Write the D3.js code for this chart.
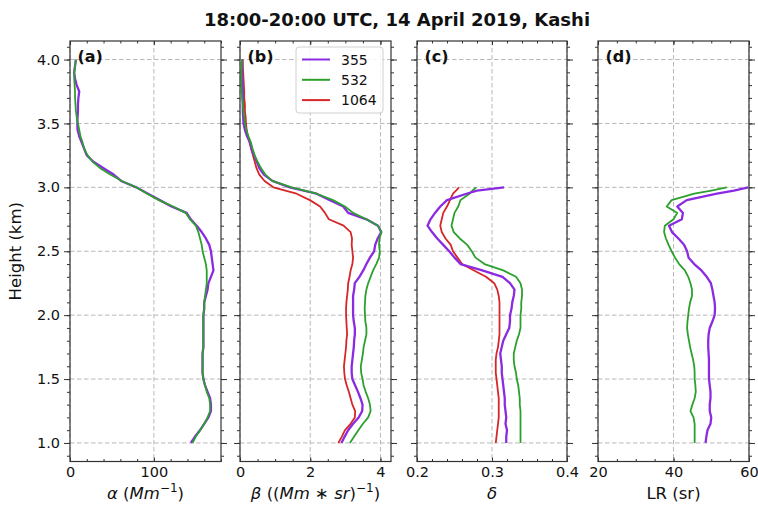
<!DOCTYPE html>
<html>
<head>
<meta charset="utf-8">
<script src="https://cdn.jsdelivr.net/npm/d3@7/dist/d3.min.js"></script>
<style>
  body { margin: 0; background: #fff; }
  svg text { font-family: "DejaVu Sans", sans-serif; fill: #111; }
</style>
</head>
<body>
<svg id="chart" width="758" height="505"></svg>
<script>
// Heights (km) for the extinction / backscatter profiles
const heightsAB = [1.00,1.05,1.10,1.15,1.20,1.25,1.30,1.35,1.40,1.45,1.50,1.55,1.60,1.65,1.70,1.75,1.80,1.85,1.90,1.95,
  2.00,2.05,2.10,2.15,2.20,2.25,2.30,2.35,2.40,2.45,2.50,2.55,2.60,2.65,2.70,2.75,2.80,2.85,2.90,2.95,
  3.00,3.05,3.10,3.15,3.20,3.25,3.30,3.35,3.40,3.45,3.50,3.55,3.60,3.65,3.70,3.75,3.80,3.85,3.90,3.95,4.00];
// Heights (km) for depolarization ratio and lidar ratio (below cloud top)
const heightsCD = [1.00,1.05,1.10,1.15,1.20,1.25,1.30,1.35,1.40,1.45,1.50,1.55,1.60,1.65,1.70,1.75,1.80,1.85,1.90,1.95,
  2.00,2.05,2.10,2.15,2.20,2.25,2.30,2.35,2.40,2.45,2.50,2.55,2.60,2.65,2.70,2.75,2.80,2.85,2.90,2.95,2.975,3.00];

// (a) extinction coefficient, Mm^-1
const alpha355 = [144,149,155,160,165,168,168,167,164,161,159,158,158,158,158,159,159,159,159,159,
  159,160,160,162,164,165,168,171,170,169,168,166,162,157,151,144,139,121,107,93,
  79,61,52,40,28,20,17,14,11,9,8.7,9,9.5,9.5,10,11,8,6,5,6,7];
const alpha532 = [146,150,155,160,164,167,167,166,163,161,159,158,158,158,158,159,159,159,159,159,
  159,160,160,161,162,163,163,163,162,160,158,157,155,153,150,143,138,123,106,92,
  79,62,48,36,27,21,17,15,12.5,11,9.5,8,7,6.5,6,6,5.5,5,5,6,7];

// (b) backscatter coefficient, (Mm*sr)^-1
const beta355 = [2.89,2.98,3.08,3.22,3.38,3.48,3.49,3.43,3.36,3.28,3.2,3.18,3.18,3.2,3.22,3.24,3.25,3.27,3.27,3.24,
  3.22,3.22,3.22,3.22,3.25,3.27,3.4,3.51,3.6,3.7,3.82,3.85,3.92,4.02,3.93,3.6,3.08,2.94,2.56,2.18,
  1.42,0.92,0.68,0.55,0.48,0.4,0.33,0.29,0.2,0.14,0.1,0.09,0.08,0.08,0.08,0.08,0.07,0.07,0.06,0.06,0.06];
const beta532 = [3.13,3.25,3.37,3.5,3.65,3.72,3.7,3.65,3.58,3.52,3.49,3.45,3.44,3.47,3.5,3.52,3.56,3.6,3.6,3.57,
  3.56,3.55,3.56,3.57,3.6,3.65,3.72,3.79,3.88,3.96,3.98,3.96,3.97,4.03,3.93,3.6,3.22,2.99,2.65,2.18,
  1.47,0.92,0.72,0.6,0.5,0.42,0.36,0.31,0.24,0.18,0.14,0.12,0.1,0.08,0.06,0.05,0.04,0.04,0.04,0.05,0.06];
const beta1064 = [2.8,2.9,2.99,3.15,3.27,3.28,3.2,3.15,3.1,3.04,2.99,2.97,2.96,2.98,3.0,3.02,3.03,3.05,3.04,3.03,
  3.02,3.02,3.03,3.05,3.07,3.08,3.12,3.15,3.2,3.22,3.2,3.18,3.19,3.15,2.95,2.53,2.42,2.28,1.99,1.61,
  0.95,0.7,0.55,0.47,0.42,0.37,0.32,0.27,0.22,0.19,0.17,0.16,0.14,0.14,0.12,0.12,0.11,0.1,0.09,0.08,0.08];

// (c) particle depolarization ratio
const delta355 = [0.319,0.319,0.32,0.318,0.319,0.318,0.317,0.317,0.316,0.315,0.314,0.313,0.313,0.312,0.311,0.313,0.315,0.319,0.323,0.324,
  0.324,0.326,0.327,0.329,0.33,0.324,0.314,0.287,0.258,0.25,0.243,0.235,0.227,0.22,0.214,0.218,0.224,0.231,0.24,0.266,0.28,0.316];
const delta532 = [0.338,0.338,0.338,0.338,0.338,0.338,0.337,0.337,0.336,0.335,0.333,0.332,0.33,0.329,0.329,0.331,0.333,0.336,0.338,0.338,
  0.338,0.339,0.339,0.34,0.34,0.338,0.332,0.315,0.29,0.278,0.273,0.267,0.257,0.249,0.246,0.248,0.25,0.255,0.258,0.27,0.274,0.279];
const delta1064 = [0.305,0.306,0.307,0.308,0.309,0.309,0.309,0.309,0.308,0.307,0.306,0.305,0.305,0.305,0.306,0.308,0.309,0.31,0.31,0.31,
  0.31,0.31,0.31,0.309,0.307,0.303,0.292,0.276,0.26,0.254,0.248,0.245,0.238,0.233,0.231,0.233,0.235,0.24,0.244,0.248,0.252,0.256];

// (d) lidar ratio, sr
const lr355 = [48.5,48.7,49.0,49.8,50.0,49.6,49.6,49.8,49.8,49.6,49.4,49.4,49.4,49.4,49.3,49.2,49.2,49.3,49.6,50.3,
  50.9,51.0,50.9,50.6,50.3,49.9,48.8,47.4,45.5,44.0,43.6,42.8,41.3,39.6,38.8,42.2,42.5,41.0,43.5,51.5,56.0,59.8];
const lr532 = [45.6,45.6,45.6,45.6,45.3,44.5,45.0,45.6,45.9,45.8,45.6,45.6,45.5,45.2,44.8,44.4,44.1,43.8,43.6,43.7,
  43.9,44.1,44.4,44.9,44.9,44.5,43.9,43.0,41.5,40.4,39.5,38.7,38.0,37.5,37.7,40.0,41.0,38.2,39.5,45.5,50.0,54.1];

// Wavelength legend entries and tick labels
const wavelengths = ["355", "532", "1064"];
const colors = {"355": "#8a2be2", "532": "#2ca02c", "1064": "#d62728"};
const yTicks = [1.0, 1.5, 2.0, 2.5, 3.0, 3.5, 4.0];
const titleText = "18:00-20:00 UTC, 14 April 2019, Kashi";

const svg = d3.select("#chart");
const plotTop = 41, plotBottom = 461.5;
const y = d3.scaleLinear().domain([0.855, 4.145]).range([plotBottom, plotTop]);

const panels = [
  { tag: "(a)", left: 70, right: 221, domain: [0, 180], major: [0, 100], minor: 20, fmt: d3.format("d"),
    heights: heightsAB, series: [["355", alpha355], ["532", alpha532]] },
  { tag: "(b)", left: 240, right: 391, domain: [0, 4.3], major: [0, 2, 4], minor: 0.5, fmt: d3.format("d"),
    heights: heightsAB, series: [["1064", beta1064], ["355", beta355], ["532", beta532]], legend: true },
  { tag: "(c)", left: 417, right: 567, domain: [0.2, 0.4], major: [0.2, 0.3, 0.4], minor: 0.02, fmt: d3.format(".1f"),
    heights: heightsCD, series: [["532", delta532], ["1064", delta1064], ["355", delta355]] },
  { tag: "(d)", left: 598, right: 749, domain: [20, 60], major: [20, 40, 60], minor: 5, fmt: d3.format("d"),
    heights: heightsCD, series: [["532", lr532], ["355", lr355]] }
];

const yMinor = d3.range(9, 42).map(v => v / 10).filter(v => y(v) >= plotTop && y(v) <= plotBottom);

panels.forEach((p, i) => {
  const x = d3.scaleLinear().domain(p.domain).range([p.left, p.right]);
  const g = svg.append("g");
  const xMinor = d3.range(p.domain[0], p.domain[1] + 1e-9, p.minor).map(v => +v.toFixed(4));

  // dashed grid at major ticks
  g.append("g").selectAll("line").data(yTicks).join("line")
    .attr("x1", p.left).attr("x2", p.right).attr("y1", d => y(d)).attr("y2", d => y(d))
    .attr("stroke", "#b8b8b8").attr("stroke-width", 1).attr("stroke-dasharray", "4.5,2.5");
  g.append("g").selectAll("line").data(p.major).join("line")
    .attr("x1", d => x(d)).attr("x2", d => x(d)).attr("y1", plotTop).attr("y2", plotBottom)
    .attr("stroke", "#b8b8b8").attr("stroke-width", 1).attr("stroke-dasharray", "4.5,2.5");

  // profiles
  const clipId = "clip" + i;
  svg.append("clipPath").attr("id", clipId).append("rect")
    .attr("x", p.left).attr("y", plotTop).attr("width", p.right - p.left).attr("height", plotBottom - plotTop);
  const line = d3.line().x(d => x(d[0])).y(d => y(d[1]));
  p.series.forEach(([wl, vals]) => {
    g.append("path")
      .datum(vals.map((v, k) => [v, p.heights[k]]))
      .attr("clip-path", `url(#${clipId})`)
      .attr("d", line)
      .attr("fill", "none")
      .attr("stroke", colors[wl])
      .attr("stroke-width", wl === "355" ? 2.3 : 1.8)
      .attr("stroke-linejoin", "round");
  });

  // axes: y ticks pointing out on both sides, x ticks pointing in
  const axisStyle = sel => {
    sel.select(".domain").remove();
    sel.selectAll(".tick line").attr("stroke", "#333").attr("stroke-width", 1);
    sel.selectAll("text").attr("font-size", 14.5).attr("fill", "#222").attr("font-family", "DejaVu Sans");
  };
  axisStyle(g.append("g").attr("transform", `translate(${p.left},0)`)
    .call(d3.axisLeft(y).tickValues(yTicks).tickSize(6).tickPadding(4)
      .tickFormat(i === 0 ? d3.format(".1f") : "")));
  axisStyle(g.append("g").attr("transform", `translate(${p.left},0)`)
    .call(d3.axisLeft(y).tickValues(yMinor).tickSize(3).tickFormat("")));
  axisStyle(g.append("g").attr("transform", `translate(${p.right},0)`)
    .call(d3.axisRight(y).tickValues(yTicks).tickSize(6).tickFormat("")));
  axisStyle(g.append("g").attr("transform", `translate(${p.right},0)`)
    .call(d3.axisRight(y).tickValues(yMinor).tickSize(3).tickFormat("")));

  axisStyle(g.append("g").attr("transform", `translate(0,${plotBottom})`)
    .call(d3.axisBottom(x).tickValues(p.major).tickSize(-4).tickPadding(5).tickFormat(p.fmt)));
  axisStyle(g.append("g").attr("transform", `translate(0,${plotBottom})`)
    .call(d3.axisBottom(x).tickValues(xMinor).tickSize(-2.5).tickFormat("")));
  axisStyle(g.append("g").attr("transform", `translate(0,${plotTop})`)
    .call(d3.axisTop(x).tickValues(p.major).tickSize(-4).tickFormat("")));
  axisStyle(g.append("g").attr("transform", `translate(0,${plotTop})`)
    .call(d3.axisTop(x).tickValues(xMinor).tickSize(-2.5).tickFormat("")));

  // frame
  g.append("rect").attr("x", p.left).attr("y", plotTop)
    .attr("width", p.right - p.left).attr("height", plotBottom - plotTop)
    .attr("fill", "none").attr("stroke", "#333").attr("stroke-width", 1.2);

  // panel tag
  g.append("text").attr("x", p.left + 7.5).attr("y", 62)
    .attr("font-size", 16).attr("font-weight", "bold").text(p.tag);

  if (p.legend) {
    const lg = g.append("g");
    lg.append("rect").attr("x", 296).attr("y", 47).attr("width", 87).attr("height", 66)
      .attr("rx", 3).attr("fill", "#fff").attr("fill-opacity", 0.85)
      .attr("stroke", "#d0d0d0").attr("stroke-width", 1);
    wavelengths.forEach((wl, k) => {
      const cy = 59.5 + k * 20.3;
      lg.append("line").attr("x1", 302).attr("x2", 330).attr("y1", cy).attr("y2", cy)
        .attr("stroke", colors[wl]).attr("stroke-width", 2);
      lg.append("text").attr("x", 341).attr("y", cy).attr("dy", "0.36em")
        .attr("font-size", 14).attr("fill", "#222").text(wl);
    });
  }
});

// x-axis titles
const labelY = 499;
const xl = [
  { cx: (70 + 221) / 2, parts: [["α", 1], [" (", 0], ["Mm", 1], ["−1", 2], [")", 0]] },
  { cx: (240 + 391) / 2, parts: [["β", 1], [" ((", 0], ["Mm", 1], [" ∗ ", 0], ["sr", 1], [")", 0], ["−1", 2], [")", 0]] },
  { cx: (417 + 567) / 2, parts: [["δ", 1]] },
  { cx: (598 + 749) / 2, parts: [["LR (sr)", 0]] }
];
xl.forEach(l => {
  const t = svg.append("text").attr("x", l.cx).attr("y", labelY)
    .attr("text-anchor", "middle").attr("font-size", 16.5);
  let raised = false;
  l.parts.forEach(([s, kind]) => {
    const ts = t.append("tspan").text(s);
    if (kind === 1) ts.attr("font-style", "italic");
    if (kind === 2) { ts.attr("font-size", 12).attr("dy", -7); raised = true; }
    else if (raised) { ts.attr("dy", 7); raised = false; }
  });
});

// y-axis title
svg.append("text")
  .attr("transform", `translate(21,${(plotTop + plotBottom) / 2}) rotate(-90)`)
  .attr("text-anchor", "middle").attr("font-size", 16.5).text("Height (km)");

// figure title
svg.append("text").attr("x", 397).attr("y", 26)
  .attr("text-anchor", "middle").attr("font-size", 18).attr("font-weight", "bold").text(titleText);
</script>
</body>
</html>
